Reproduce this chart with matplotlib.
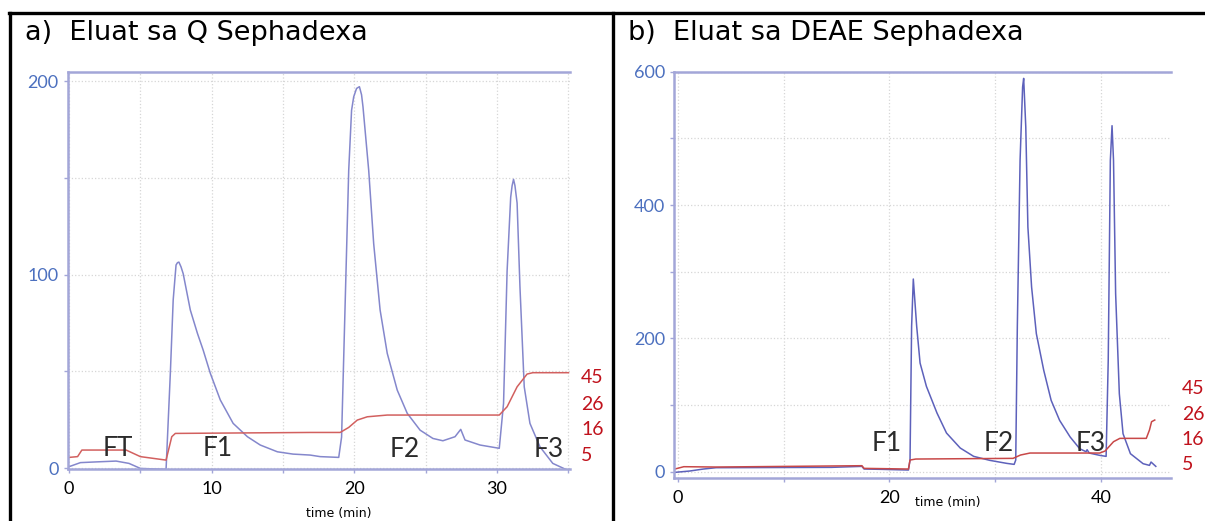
import matplotlib
matplotlib.use("Agg")
import matplotlib.pyplot as plt
from matplotlib.lines import Line2D

# a) Q Sephadex - absorbance trace
q_time = [0.0, 0.8, 2.0, 3.3, 4.2, 5.0, 6.8, 7.1, 7.3, 7.5, 7.6, 7.7, 7.85, 8.0, 8.5, 9.0, 9.4,
          9.9, 10.6, 11.5, 12.5, 13.4, 14.6, 15.7, 16.2, 16.9, 17.6, 18.9, 19.1, 19.35,
          19.6, 19.8, 19.95, 20.15, 20.35, 20.5, 20.6, 21.0, 21.35, 21.8, 22.3, 23.0, 23.7, 24.6,
          25.5, 26.2, 27.05, 27.45, 27.75, 28.8, 30.15, 30.45, 30.7, 30.95, 31.05, 31.15,
          31.25, 31.4, 31.6, 31.9, 32.3, 33.0, 33.9, 34.9]
q_abs = [0.7, 2.8, 3.2, 3.6, 2.4, -0.2, -0.7, 49, 87, 105, 106.2, 106.5, 104, 100.5, 81.7, 69.6, 61,
         49, 35.2, 23.1, 16.2, 11.9, 8.4, 7.2, 7.0, 6.7, 5.9, 5.5, 16, 85,
         154, 185, 192, 196.3, 197.2, 193, 186.8, 154, 116, 81.7, 59.3, 40.3, 28.3, 19.6,
         15.3, 14.1, 16.2, 20, 14.5, 11.9, 10.2, 33.4, 102, 140, 146, 149.3,
         146, 137, 93.7, 42, 23.1, 11, 2.4, -1]
# a) conductivity trace (drawn in absorbance units)
q_cond_time = [0.0, 0.6, 0.9, 4.0, 5.0, 6.8, 7.2, 7.45, 16.9, 19.0, 19.6, 20.2, 20.9,
               22.3, 30.15, 30.7, 31.4, 32.1, 32.5, 35.0]
q_cond = [5.5, 5.9, 9.3, 9.3, 5.9, 4.1, 16.2, 17.9, 18.4, 18.4, 21, 24.8, 26.5,
          27.4, 27.4, 31.7, 42, 48.6, 49.3, 49.3]
q_red_pos = [47.6, 33.8, 20.6, 7.2]
q_frac_labels = ["FT", "F1", "F2", "F3"]
q_frac_time = [3.45, 10.4, 23.5, 33.6]
q_frac_y = [10.3, 10.3, 9.8, 9.8]

# b) DEAE Sephadex
d_time = [-0.3, 1.1, 2.4, 3.6, 14.5, 17.4, 17.6, 19.3, 21.8, 21.95, 22.1, 22.26, 22.58,
          22.9, 23.5, 24.5, 25.4, 26.7, 27.97, 29.5, 31.1, 31.8, 31.95, 32.1, 32.36,
          32.6, 32.7, 32.9, 33.1, 33.45, 33.9, 34.6, 35.3, 36.1, 37.1, 38.0, 38.6,
          38.7, 38.9, 39.9, 40.5, 40.7, 40.9, 41.06, 41.2, 41.4, 41.75, 42.1, 42.8,
          44.0, 44.6, 44.75, 45.2]
d_abs = [-1, 1, 4, 6, 6.5, 8, 4, 3.5, 2.5, 17.5, 218, 289, 218,
         163, 128, 88, 58, 35.5, 23, 17, 12.5, 11, 17.5, 217, 467,
         577, 590, 517, 367, 277, 207, 152, 107, 77, 52, 34.5, 30,
         33, 28, 24.5, 23, 167, 467, 519, 467, 267, 117, 57, 27,
         12, 9.5, 14.5, 8]
d_cond_time = [-0.3, 0.55, 3.6, 17.4, 17.6, 21.8, 21.95, 22.5, 31.7, 32.4, 33.3, 39.9,
               40.4, 41.2, 41.8, 44.3, 44.6, 44.8, 45.1]
d_cond = [4, 7.5, 7, 9, 5, 4, 17.5, 19, 20, 25, 28, 28,
          31, 45, 50, 50, 62.5, 75, 77.5]
d_red_pos = [127.5, 87.6, 50, 12.6]
d_frac_labels = ["F1", "F2", "F3"]
d_frac_time = [19.7, 30.3, 39.0]
d_frac_y = [43, 43, 41.6]

red_labels = ["45", "26", "16", "5"]

W, H = 1205, 521
fig = plt.figure(figsize=(W / 100, H / 100), dpi=100)

SPINE = "#a3a6d8"
BLUE_TXT = "#4c70bf"
RED_TXT = "#c0121c"
FONT = "Lato"


def px_axes(x0, x1, y_top, y_bot):
    return fig.add_axes([x0 / W, 1 - y_bot / H, (x1 - x0) / W, (y_bot - y_top) / H])


def style(ax, xt, xlab, yt, ylab, red_pos, xl_x, xl_y):
    ax.set_xticks(xt)
    ax.set_xticklabels(xlab, fontsize=13, family=FONT)
    ax.set_yticks(yt)
    ax.set_yticklabels(ylab, fontsize=13, family=FONT, color=BLUE_TXT)
    ax.tick_params(length=3, color=SPINE, width=1)
    ax.tick_params(axis="x", pad=6)
    ax.grid(True, color="#d6d6d6", linestyle=":", linewidth=0.9)
    for s in ["left", "top", "bottom"]:
        ax.spines[s].set_color(SPINE)
        ax.spines[s].set_linewidth(1.8)
    ax.spines["right"].set_visible(False)
    ax.set_xlabel("time (min)", fontsize=9, family="DejaVu Sans")
    ax.xaxis.set_label_coords(xl_x, xl_y)
    ax2 = ax.twinx()
    ax2.set_ylim(ax.get_ylim())
    ax2.set_yticks(red_pos)
    ax2.set_yticklabels(red_labels, fontsize=14, family=FONT, color=RED_TXT)
    ax2.tick_params(length=0, pad=8)
    for s in ax2.spines.values():
        s.set_visible(False)
    return ax2


# panel a
ax = px_axes(67.6, 569.9, 72, 469)
ax.set_xlim(-0.1, 35.1)
ax.set_ylim(-0.5, 204.8)
ax.plot(q_time, q_abs, color="#8487cc", lw=1.1)
ax.plot(q_cond_time, q_cond, color="#d2605f", lw=1.1)
for lab, t, y in zip(q_frac_labels, q_frac_time, q_frac_y):
    ax.text(t, y, lab, fontsize=19, family=FONT, color="#2b2b2b", ha="center", va="center")
style(ax, [0, 5, 10, 15, 20, 25, 30, 35], ["0", "", "10", "", "20", "", "30", ""],
      [0, 50, 100, 150, 200], ["0", "", "100", "", "200"], q_red_pos, 0.54, -0.095)

# panel b
bx = px_axes(674.3, 1170.6, 71.7, 477.7)
bx.set_xlim(-0.35, 46.6)
bx.set_ylim(-9, 600)
bx.plot(d_time, d_abs, color="#5d61bb", lw=1.1)
bx.plot(d_cond_time, d_cond, color="#c84848", lw=1.1)
for lab, t, y in zip(d_frac_labels, d_frac_time, d_frac_y):
    bx.text(t, y, lab, fontsize=19, family=FONT, color="#2b2b2b", ha="center", va="center")
style(bx, [0, 10, 20, 30, 40], ["0", "", "20", "", "40"],
      [0, 100, 200, 300, 400, 500, 600], ["0", "", "200", "", "400", "", "600"],
      d_red_pos, 0.55, -0.045)

# table borders and titles
for xs, ys in [([10, 10], [13, H]), ([613, 613], [13, H]), ([9, W], [13, 13])]:
    fig.add_artist(Line2D([x / W for x in xs], [1 - y / H for y in ys],
                          transform=fig.transFigure, color="black", lw=2.4))
fig.text(25 / W, 1 - 33 / H, "a)  Eluat sa Q Sephadexa", fontsize=19.5,
         family="DejaVu Sans", va="center")
fig.text(628 / W, 1 - 33 / H, "b)  Eluat sa DEAE Sephadexa", fontsize=19.5,
         family="DejaVu Sans", va="center")

fig.savefig("out.png", dpi=100)
